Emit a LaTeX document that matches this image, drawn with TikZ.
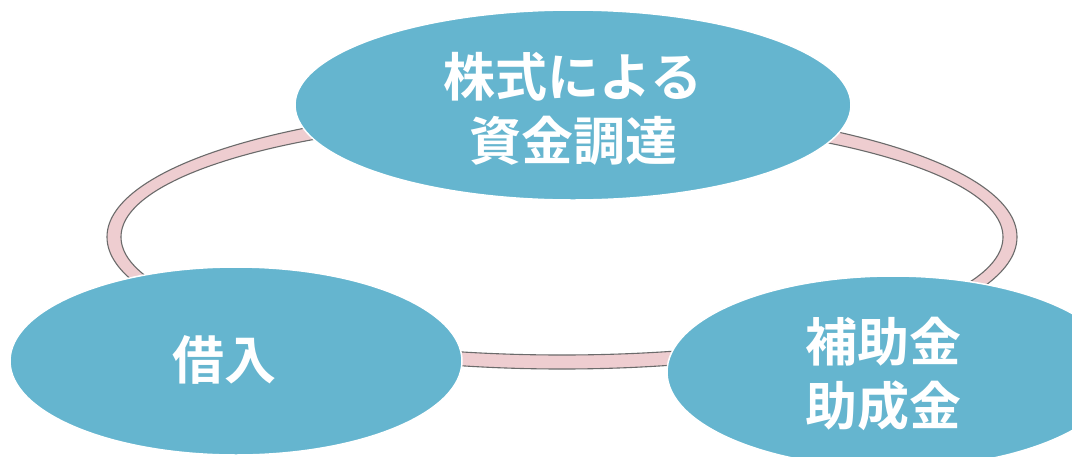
\documentclass[tikz,border=0pt]{standalone}
\usepackage{fontspec}
\usetikzlibrary{shapes.geometric}
\newfontfamily\cjk{Noto Sans CJK JP}[BoldFont={Noto Sans CJK JP Bold}]
\definecolor{bubble}{HTML}{65B5CF}
\definecolor{ringfill}{HTML}{EECDD0}
\definecolor{ringline}{HTML}{6B6B6B}
\tikzset{
  bubble/.style={ellipse, fill=bubble, draw=white, line width=1.5pt, inner sep=0pt},
  bubbletext/.style={text=white, align=center, inner sep=0pt,
    font=\cjk\bfseries\fontsize{52pt}{64pt}\selectfont},
  ringband/.style={fill=ringfill, draw=ringline, line width=1.1pt, even odd rule}
}
\begin{document}
\begin{tikzpicture}[x=1pt,y=-1pt]
\path[use as bounding box, clip] (0,0) rectangle (1072,456);
\fill[white] (0,0) rectangle (1072,456);
\coordinate (ringc) at (562,237);
\path[ringband] (ringc) ellipse [x radius=455, y radius=132]
  (ringc) ellipse [x radius=441, y radius=118];
\node[bubble, minimum width=556pt, minimum height=190pt] (stock) at (573,105) {};
\node[bubble, minimum width=452pt, minimum height=188pt] (loan) at (236,361) {};
\node[bubble, minimum width=452pt, minimum height=192pt] (grant) at (893,372) {};
\node[bubbletext] (stocktext) at (573,109) {株式による\\資金調達};
\node[bubbletext] (loantext) at (224,360) {借入};
\node[bubbletext] (granttext) at (883,374) {補助金\\助成金};
\end{tikzpicture}
\end{document}
